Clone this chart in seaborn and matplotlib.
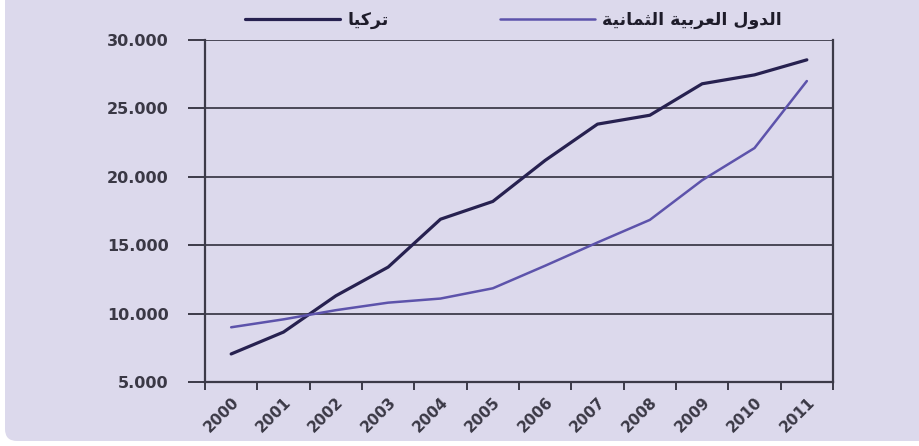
import numpy as np
import pandas as pd
import matplotlib
matplotlib.use("Agg")
import matplotlib.pyplot as plt
from matplotlib.patches import FancyBboxPatch, Rectangle
from matplotlib.transforms import IdentityTransform
import seaborn as sns

# ---- data -------------------------------------------------------------
years = ["2000", "2001", "2002", "2003", "2004", "2005",
         "2006", "2007", "2008", "2009", "2010", "2011"]
turkey = [7050, 8650, 11300, 13400, 16900, 18200,
          21200, 23850, 24500, 26800, 27450, 28550]
arab8 = [9000, 9580, 10250, 10800, 11100, 11850,
         13500, 15200, 16850, 19750, 22100, 27000]
series_names = ["تركيا", "الدول العربية الثمانية"]
y_ticks = [5000, 10000, 15000, 20000, 25000, 30000]

# ---- minimal Arabic shaping (matplotlib has no text shaping) ----------
FORMS = {
    "ا": ("\uFE8D", "\uFE8E", None, None),
    "ب": ("\uFE8F", "\uFE90", "\uFE91", "\uFE92"),
    "ة": ("\uFE93", "\uFE94", None, None),
    "ت": ("\uFE95", "\uFE96", "\uFE97", "\uFE98"),
    "ث": ("\uFE99", "\uFE9A", "\uFE9B", "\uFE9C"),
    "د": ("\uFEA9", "\uFEAA", None, None),
    "ر": ("\uFEAD", "\uFEAE", None, None),
    "ع": ("\uFEC9", "\uFECA", "\uFECB", "\uFECC"),
    "ك": ("\uFED9", "\uFEDA", "\uFEDB", "\uFEDC"),
    "ل": ("\uFEDD", "\uFEDE", "\uFEDF", "\uFEE0"),
    "م": ("\uFEE1", "\uFEE2", "\uFEE3", "\uFEE4"),
    "ن": ("\uFEE5", "\uFEE6", "\uFEE7", "\uFEE8"),
    "و": ("\uFEED", "\uFEEE", None, None),
    "ي": ("\uFEF1", "\uFEF2", "\uFEF3", "\uFEF4"),
}


def shape_arabic(text):
    out = []
    for i, ch in enumerate(text):
        if ch not in FORMS:
            out.append(ch)
            continue
        prev = text[i - 1] if i > 0 else None
        nxt = text[i + 1] if i + 1 < len(text) else None
        iso, fin, ini, med = FORMS[ch]
        joins_prev = prev in FORMS and FORMS[prev][2] is not None
        joins_next = ini is not None and nxt in FORMS
        if joins_prev and joins_next:
            out.append(med)
        elif joins_prev:
            out.append(fin)
        elif joins_next:
            out.append(ini)
        else:
            out.append(iso)
    return "".join(reversed(out))


labels = [shape_arabic(s) for s in series_names]

df = pd.DataFrame({
    "pos": list(range(len(years))) * 2,
    "value": turkey + arab8,
    "series": [labels[0]] * len(years) + [labels[1]] * len(years),
})

# ---- style -------------------------------------------------------------
sns.set_theme(style="white")
plt.rcParams["font.family"] = ["DejaVu Sans"]

BG = "#dcd9ec"
AX_COL = "#3c3a48"
TXT = "#3a3845"
DARK = "#272150"
LIGHT = "#5d53ab"
LW = [2.3, 1.8]

fig = plt.figure(figsize=(9.19, 4.46), dpi=100, facecolor="white")
# lavender panel: rounded at the bottom-left, square where it meets the edges
panel_low = FancyBboxPatch((5, 5), 3000, 200,
                           boxstyle="round,pad=0,rounding_size=12",
                           transform=IdentityTransform(),
                           facecolor=BG, edgecolor="none", zorder=-10)
panel_up = Rectangle((5, 100), 3000, 3000, transform=IdentityTransform(),
                     facecolor=BG, edgecolor="none", zorder=-10)
fig.patches.extend([panel_low, panel_up])

ax = fig.add_axes([205 / 919, 1 - 382 / 446, (833 - 205) / 919, (382 - 40) / 446])
ax.set_facecolor("none")
ax.set_zorder(1)

sns.lineplot(data=df, x="pos", y="value", hue="series",
             palette={labels[0]: DARK, labels[1]: LIGHT},
             ax=ax, legend=True, zorder=3)
for line, lw in zip(ax.lines, LW):
    line.set_linewidth(lw)

ax.set_xlim(-0.5, len(years) - 0.5)
ax.set_ylim(y_ticks[0], y_ticks[-1])
ax.set_xlabel("")
ax.set_ylabel("")

# y axis
ax.set_yticks(y_ticks)
ax.set_yticklabels([f"{v:,}".replace(",", ".") for v in y_ticks],
                   fontsize=11.5, fontweight="bold", color=TXT)
ax.tick_params(axis="y", direction="out", length=12, width=1.4,
               color=AX_COL, pad=14, left=True)
ax.yaxis.grid(True, color="#4a4856", linewidth=1.4, zorder=1)
ax.xaxis.grid(False)

# x axis: labels at category centres, tick marks between categories
ax.set_xticks(range(len(years)))
ax.set_xticklabels(years, rotation=45, ha="right", rotation_mode="anchor",
                   fontsize=11, fontweight="bold", color=TXT)
ax.set_xticks(np.arange(-0.5, len(years), 1.0), minor=True)
ax.tick_params(axis="x", which="major", length=0, pad=9, bottom=True)
ax.tick_params(axis="x", which="minor", direction="out", length=6,
               width=1.4, color=AX_COL, bottom=True)

for side in ["left", "right", "bottom"]:
    ax.spines[side].set_visible(True)
    ax.spines[side].set_color(AX_COL)
    ax.spines[side].set_linewidth(1.6)
ax.spines["top"].set_visible(False)

# legend above the plot
handles, lbls = ax.get_legend_handles_labels()
ax.get_legend().remove()
leg = fig.legend(handles, lbls, ncol=2, frameon=False,
                 loc="center left", bbox_to_anchor=(245 / 919, 1 - 20 / 446),
                 borderpad=0, borderaxespad=0, handlelength=5.5,
                 handletextpad=0.4, columnspacing=6.4,
                 prop={"size": 12.5, "weight": "bold"})
for t in leg.get_texts():
    t.set_color("#1e1c2a")
for h, lw in zip(leg.legend_handles, LW):
    h.set_linewidth(lw)

fig.savefig("out.png", dpi=100, facecolor="white")
